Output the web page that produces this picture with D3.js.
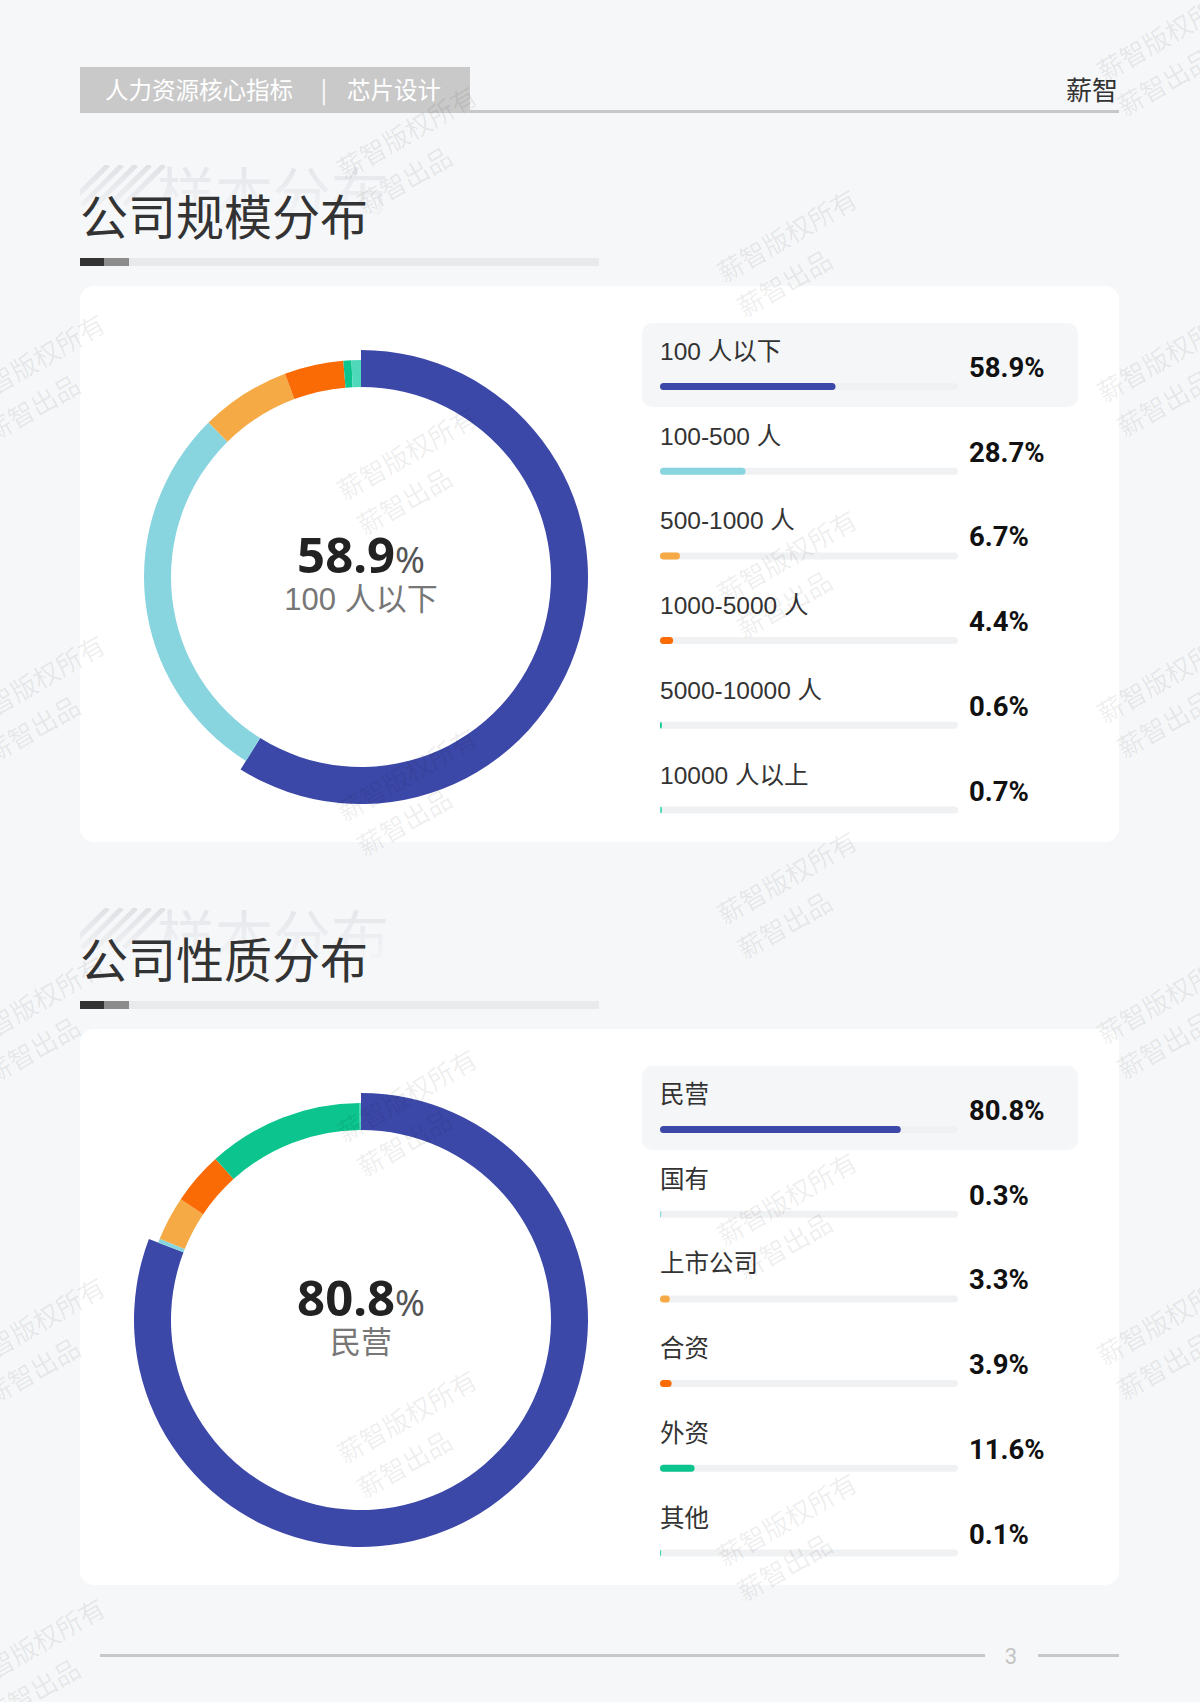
<!DOCTYPE html>
<html><head><meta charset="utf-8">
<script src="https://cdn.jsdelivr.net/npm/d3@7"></script>
<style>html,body{margin:0;padding:0;background:#f6f7f9;}svg{display:block;}</style>
</head><body>
<svg id="c" width="1200" height="1702"></svg>
<script>
// ---- data ----
const headerTitle = "人力资源核心指标";
const headerSub = "芯片设计";
const brand = "薪智";
const sectionTitles = ["公司规模分布", "公司性质分布"];
const sizeCats = ["100 人以下", "100-500 人", "500-1000 人", "1000-5000 人", "5000-10000 人", "10000 人以上"];
const sizeVals = [58.9, 28.7, 6.7, 4.4, 0.6, 0.7];
const typeCats = ["民营", "国有", "上市公司", "合资", "外资", "其他"];
const typeVals = [80.8, 0.3, 3.3, 3.9, 11.6, 0.1];
const palette = ["#3c48a8", "#88d4df", "#f6aa45", "#fa6a05", "#0cc48e", "#4fd8ba"];
const pageNo = "3";

const CJK = "'Noto Sans CJK SC','Noto Sans',sans-serif";
const LAT = "'Liberation Sans','Noto Sans CJK SC',sans-serif";

const svg = d3.select("#c");
const defs = svg.append("defs");
svg.append("rect").attr("width", 1200).attr("height", 1702).attr("fill", "#f6f7f9");

// header
svg.append("rect").attr("x", 80).attr("y", 67).attr("width", 390).attr("height", 46).attr("fill", "#c9c9c9");
svg.append("rect").attr("x", 470).attr("y", 110).attr("width", 649).attr("height", 3).attr("fill", "#c8c8c8");
const hdr = svg.append("g").attr("fill", "#fff").style("font-family", CJK).style("font-size", "23.5px");
hdr.append("text").attr("x", 105).attr("y", 99).text(headerTitle);
hdr.append("text").attr("x", 324).attr("y", 99).attr("text-anchor", "middle").text("|");
hdr.append("text").attr("x", 347).attr("y", 99).text(headerSub);
svg.append("text").attr("x", 1118).attr("y", 100).attr("text-anchor", "end").attr("fill", "#333")
  .style("font-family", CJK).style("font-size", "26px").text(brand);

// fade gradient for decorative text
const fade = defs.append("linearGradient").attr("id", "fade").attr("x1", 0).attr("y1", 0).attr("x2", 0).attr("y2", 1);
fade.append("stop").attr("offset", "0%").attr("stop-color", "#fff").attr("stop-opacity", 1);
fade.append("stop").attr("offset", "100%").attr("stop-color", "#fff").attr("stop-opacity", 0);

function section(idx, dy, cats, vals) {
  // decorative faint header
  const mid = "m" + idx;
  const m = defs.append("mask").attr("id", mid).attr("maskUnits", "userSpaceOnUse");
  m.append("rect").attr("x", 80).attr("y", 165 + dy).attr("width", 340).attr("height", 58).attr("fill", "url(#fade)");
  const decoInner = svg.append("g").attr("mask", `url(#${mid})`);
  [0,1,2,3,4].forEach(k => {
    decoInner.append("line").attr("x1", 68 + k * 14).attr("y1", 205 + dy).attr("x2", 108 + k * 14).attr("y2", 165 + dy)
      .attr("stroke", "#dfe1e5").attr("stroke-width", 5);
  });
  decoInner.append("text").attr("x", 157).attr("y", 216 + dy).attr("fill", "#e3e5e9")
    .style("font-family", CJK).style("font-size", "58px").text("样本分布");

  const g = svg.append("g").attr("transform", `translate(0,${dy})`);
  // title
  g.append("text").attr("x", 80).attr("y", 235).attr("fill", "#333")
    .style("font-family", CJK).style("font-size", "48px").text(sectionTitles[idx]);
  g.append("rect").attr("x", 80).attr("y", 258).attr("width", 519).attr("height", 8).attr("fill", "#e9eaec");
  g.append("rect").attr("x", 80).attr("y", 258).attr("width", 24).attr("height", 8).attr("fill", "#333");
  g.append("rect").attr("x", 104).attr("y", 258).attr("width", 25).attr("height", 8).attr("fill", "#8c8c8c");

  // card
  g.append("rect").attr("x", 80).attr("y", 286).attr("width", 1039).attr("height", 556).attr("rx", 14).attr("fill", "#fff");

  // donut
  const pie = d3.pie().sort(null).value(d => d)(vals);
  const arc = d3.arc().innerRadius(190);
  const dg = g.append("g").attr("transform", "translate(361,577)");
  dg.selectAll("path").data(pie).join("path")
    .attr("d", (d, i) => arc.outerRadius(i === 0 ? 227 : 217)(d))
    .attr("fill", (d, i) => palette[i]);
  const t1 = dg.append("text").attr("x", 0).attr("y", -4).attr("text-anchor", "middle");
  t1.append("tspan").text(d3.format(".1f")(vals[0])).attr("fill", "#222")
    .style("font-family", "'Noto Sans',sans-serif").style("font-weight", "bold").style("font-size", "49px");
  t1.append("tspan").text("%").attr("fill", "#555")
    .style("font-family", "'Noto Sans',sans-serif").style("font-size", "36px");
  dg.append("text").attr("x", 0).attr("y", 33).attr("text-anchor", "middle").attr("fill", "#777")
    .style("font-family", LAT).style("font-size", "31px").text(cats[0]);

  // legend
  const rowY = d3.scaleBand().domain(cats).range([323, 323 + 6 * 84.7]);
  const barX = d3.scaleLinear().domain([0, 100]).range([0, 298]);
  g.append("rect").attr("x", 642).attr("y", rowY(cats[0])).attr("width", 436).attr("height", 84)
    .attr("rx", 10).attr("fill", "#f5f6f8");
  const rows = g.selectAll("g.row").data(cats).join("g").attr("class", "row")
    .attr("transform", d => `translate(0,${rowY(d)})`);
  rows.append("text").attr("x", 660).attr("y", 37).attr("fill", "#333")
    .style("font-family", LAT).style("font-size", "24.5px").text(d => d);
  rows.append("rect").attr("x", 660).attr("y", 60).attr("width", barX(100)).attr("height", 7).attr("rx", 3.5)
    .attr("fill", "#f0f1f3");
  rows.append("rect").attr("x", 660).attr("y", 60).attr("width", (d, i) => Math.max(barX(vals[i]), 1.2))
    .attr("height", 7).attr("rx", 3.5).attr("fill", (d, i) => palette[i]);
  rows.append("text").attr("x", 969).attr("y", 54).attr("fill", "#111")
    .style("font-family", "Roboto,sans-serif").style("font-weight", "bold").style("font-size", "27.5px")
    .text((d, i) => d3.format(".1f")(vals[i]) + "%");
}

section(0, 0, sizeCats, sizeVals);
section(1, 743, typeCats, typeVals);

// footer
svg.append("rect").attr("x", 100).attr("y", 1654).attr("width", 885).attr("height", 3).attr("fill", "#c8c8c8");
svg.append("rect").attr("x", 1038).attr("y", 1654).attr("width", 81).attr("height", 3).attr("fill", "#c8c8c8");
svg.append("text").attr("x", 1011).attr("y", 1664).attr("text-anchor", "middle").attr("fill", "#c4c4c4")
  .style("font-family", "Roboto,sans-serif").style("font-size", "22px").text(pageNo);

// watermark (decoration)
const wmCols = [{x: 40, y0: 369, n: 5}, {x: 412, y0: 141, n: 5}, {x: 792, y0: 244, n: 5}, {x: 1172, y0: 43, n: 5}];
const wm = svg.append("g").attr("pointer-events", "none");
wmCols.forEach(c => {
  d3.range(c.n).forEach(k => {
    const gg = wm.append("g").attr("transform", `translate(${c.x},${c.y0 + k * 321}) rotate(-30)`)
      .style("font-family", CJK).style("font-size", "26px").attr("fill", "#000").attr("fill-opacity", 0.08);
    gg.append("text").attr("x", -78).attr("y", 0).text("薪智版权所有");
    gg.append("text").attr("x", -78).attr("y", 40).text("薪智出品");
  });
});
</script>
</body></html>
